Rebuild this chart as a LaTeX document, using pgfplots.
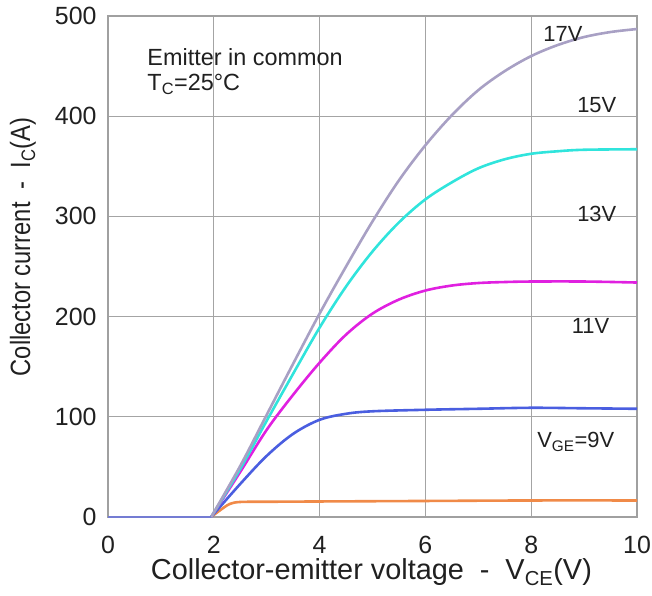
\documentclass[border=0pt]{standalone}
\usepackage{graphicx}
\usepackage{pgfplots}
\pgfplotsset{compat=1.18}
\usepackage{fontspec}
\setmainfont{Liberation Sans}
\usetikzlibrary{calc}
\definecolor{c17}{HTML}{A8A0C4}
\definecolor{c15}{HTML}{30E4DC}
\definecolor{c13}{HTML}{E020E0}
\definecolor{c11}{HTML}{4A5EE0}
\definecolor{c9}{HTML}{F08A48}
\definecolor{gridc}{HTML}{A4A4A4}
\definecolor{framec}{HTML}{A0A0A0}
\definecolor{txt}{HTML}{202020}
\begin{document}
\begin{tikzpicture}
\begin{axis}[
  scale only axis=true,
  width=529bp, height=501bp,
  xmin=0, xmax=10, ymin=0, ymax=500,
  xtick={0,2,4,6,8,10}, ytick={0,100,200,300,400,500},
  grid=major,
  major grid style={gridc, line width=1.1bp},
  axis line style={framec, line width=2.2bp},
  major tick length=0pt,
  /pgf/number format/assume math mode=true,
  tick label style={font=\fontsize{25}{28}\selectfont, text=txt},
  xticklabel style={yshift=-16bp},
  yticklabel style={xshift=-8bp},
  xlabel={\fontsize{29}{32}\selectfont Collector-emitter voltage\hspace{0.55em}-\hspace{0.55em}V\textsubscript{CE}(V)},
  ylabel={\scalebox{0.85}[1]{Collector current\hspace{0.55em}-\hspace{0.55em}I\textsubscript{C}(A)}},
  label style={font=\fontsize{28}{31}\selectfont, text=txt},
  xlabel style={at={(axis description cs:0.498,-0.110)}, anchor=center},
  ylabel style={at={(axis description cs:-0.161,0.539)}, anchor=center, rotate=0},
  clip=true,
]
\addplot[c9, line width=2.6bp, smooth, tension=0.5] coordinates {
 (1.95,0) (2.1,6) (2.3,13) (2.5,15) (3,15.2) (4,15.5) (6,16) (8,16.5) (10,16.5)};
\addplot[c11, line width=2.6bp, smooth, tension=0.55] coordinates {
 (1.95,0) (2.5,33) (3,61) (3.5,83) (4,97) (4.5,103) (5,105.5) (6,107) (7,108) (8,109) (9,108.5) (10,108)};
\addplot[c13, line width=2.6bp, smooth, tension=0.55] coordinates {
 (1.95,0) (2.5,45) (3,87) (3.5,122) (4,154) (4.5,182) (5,203) (5.5,217) (6,226) (6.5,231) (7,233.5) (7.5,234.5) (8,235) (9,235) (10,234)};
\addplot[c15, line width=2.6bp, smooth, tension=0.55] coordinates {
 (1.95,0) (2.5,48) (3,96) (3.5,143) (4,189) (4.5,230) (5,265) (5.5,294) (6,317) (6.5,334) (7,348) (7.5,357) (8,362.5) (8.5,365) (9,366.5) (10,367)};
\addplot[c17, line width=2.6bp, smooth, tension=0.55] coordinates {
 (1.95,0) (2.5,51) (3,102) (3.5,153) (4,203) (4.5,250) (5,295) (5.5,336) (6,371) (6.5,401) (7,426) (7.5,445) (8,460) (8.5,471) (9,479) (9.5,484) (10,487)};
\addplot[c11!55!c17, line width=2.6bp] coordinates {(0,0) (1.95,0)};
\node[font=\fontsize{23.5}{26}\selectfont, text=txt, anchor=west] at (axis cs:0.68,459) {Emitter in common};
\node[font=\fontsize{23.5}{26}\selectfont, text=txt, anchor=west] at (axis cs:0.68,432) {T\textsubscript{C}=25°C};
\node[font=\fontsize{22}{25}\selectfont, text=txt] at (axis cs:8.6,482) {17V};
\node[font=\fontsize{22}{25}\selectfont, text=txt] at (axis cs:9.24,411) {15V};
\node[font=\fontsize{22}{25}\selectfont, text=txt] at (axis cs:9.24,302) {13V};
\node[font=\fontsize{22}{25}\selectfont, text=txt] at (axis cs:9.12,191) {11V};
\node[font=\fontsize{22}{25}\selectfont, text=txt, anchor=west] at (axis cs:8.05,75) {V\textsubscript{GE}=9V};
\end{axis}
\pgfresetboundingbox
\path ($(current axis.south west)+(-108bp,-79bp)$) rectangle ($(current axis.north east)+(15bp,16bp)$);
\end{tikzpicture}
\end{document}
